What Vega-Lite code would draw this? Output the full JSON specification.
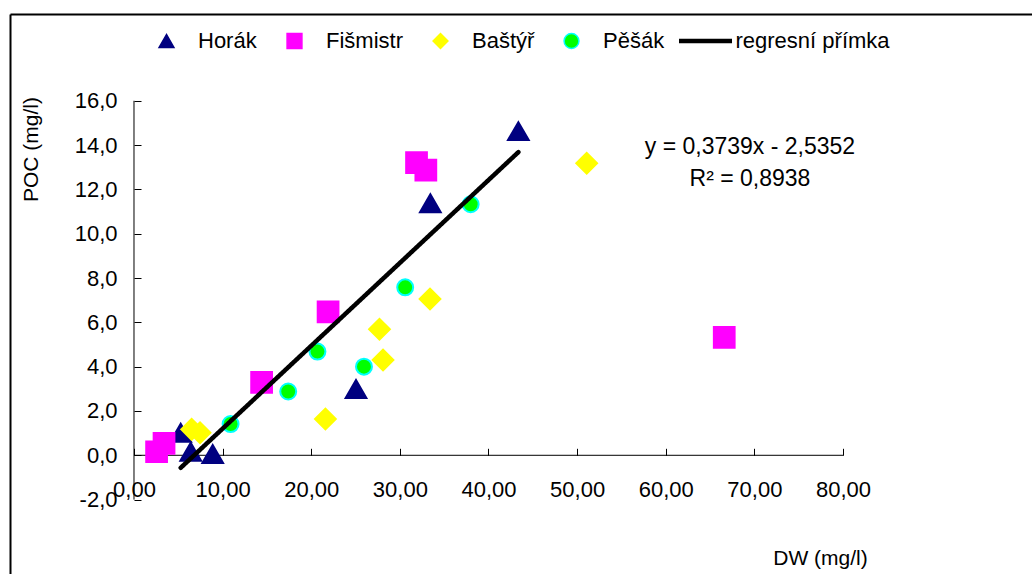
{
  "$schema": "https://vega.github.io/schema/vega-lite/v6.json",
  "width": 1022,
  "height": 560,
  "autosize": "none",
  "padding": {"left": 10, "top": 14, "right": 0, "bottom": 0},
  "background": "white",
  "config": {
    "view": {"stroke": null},
    "font": "Liberation Sans",
    "axis": {"labelFont": "Liberation Sans", "titleFont": "Liberation Sans", "labelColor": "black", "titleColor": "black", "titleFontWeight": "normal", "grid": false, "domainColor": "black", "tickColor": "black"},
    "legend": {"labelFont": "Liberation Sans", "labelColor": "black"}
  },
  "datasets": {
    "axisLines": [
      {"x": 0, "x2": 0, "y": -2, "y2": 16},
      {"x": 0, "x2": 80, "y": 0, "y2": 0}
    ],
    "points": [
      {"series": "Horák", "DW": 5.27, "POC": 1.02},
      {"series": "Horák", "DW": 6.4, "POC": 0.16},
      {"series": "Horák", "DW": 8.88, "POC": 0.06},
      {"series": "Horák", "DW": 25.05, "POC": 2.99},
      {"series": "Horák", "DW": 33.44, "POC": 11.37},
      {"series": "Horák", "DW": 43.37, "POC": 14.63},
      {"series": "Fišmistr", "DW": 2.55, "POC": 0.16},
      {"series": "Fišmistr", "DW": 3.39, "POC": 0.54},
      {"series": "Fišmistr", "DW": 14.4, "POC": 3.29},
      {"series": "Fišmistr", "DW": 21.9, "POC": 6.47},
      {"series": "Fišmistr", "DW": 31.88, "POC": 13.21},
      {"series": "Fišmistr", "DW": 32.93, "POC": 12.87},
      {"series": "Fišmistr", "DW": 66.6, "POC": 5.32},
      {"series": "Baštýř", "DW": 6.5, "POC": 1.17},
      {"series": "Baštýř", "DW": 7.45, "POC": 1.02},
      {"series": "Baštýř", "DW": 21.6, "POC": 1.64},
      {"series": "Baštýř", "DW": 27.7, "POC": 5.69},
      {"series": "Baštýř", "DW": 28.1, "POC": 4.3},
      {"series": "Baštýř", "DW": 33.4, "POC": 7.05},
      {"series": "Baštýř", "DW": 51.08, "POC": 13.18},
      {"series": "Pěšák", "DW": 10.9, "POC": 1.41},
      {"series": "Pěšák", "DW": 17.4, "POC": 2.88},
      {"series": "Pěšák", "DW": 20.7, "POC": 4.68},
      {"series": "Pěšák", "DW": 25.95, "POC": 4.0},
      {"series": "Pěšák", "DW": 30.6, "POC": 7.58},
      {"series": "Pěšák", "DW": 37.99, "POC": 11.33}
    ],
    "trend": [
      {"DW": 5.27, "POC": -0.565},
      {"DW": 43.37, "POC": 13.68}
    ],
    "notes": [
      {"DW": 69.5, "POC": 13.93, "label": "y = 0,3739x - 2,5352"},
      {"DW": 69.5, "POC": 12.47, "label": "R² = 0,8938"}
    ]
  },
  "layer": [
    {
      "data": {"name": "axisLines"},
      "mark": {"type": "rule", "color": "black", "strokeWidth": 1},
      "encoding": {
        "x": {"field": "x", "type": "quantitative", "scale": {"domain": [-13.991, 101.326], "nice": false, "zero": false},
              "axis": {"orient": "top", "domain": true, "domainWidth": 2, "ticks": false, "labels": false, "title": null, "grid": false}},
        "x2": {"field": "x2"},
        "y": {"field": "y", "type": "quantitative", "scale": {"domain": [-5.357, 19.915], "nice": false, "zero": false},
              "axis": {"orient": "left", "domain": true, "domainWidth": 2, "ticks": false, "labels": false, "title": null, "grid": false}},
        "y2": {"field": "y2"}
      }
    },
    {
      "data": {"name": "points"},
      "transform": [{"filter": "datum.series !== 'Pěšák'"}],
      "mark": {"type": "point", "filled": true, "opacity": 1, "strokeWidth": 2, "size": 430},
      "encoding": {
        "x": {"field": "DW", "type": "quantitative", "scale": {"domain": [-13.991, 101.326], "nice": false, "zero": false},
              "axis": {"orient": "bottom", "offset": -118.7, "domain": false, "ticks": true, "tickSize": -7, "tickWidth": 1,
                       "values": [0, 10, 20, 30, 40, 50, 60, 70, 80],
                       "labelExpr": "replace(format(datum.value, '.2f'), '.', ',')",
                       "labelFontSize": 22, "labelPadding": 31, "labelBaseline": "top", "labelOverlap": false, "labelFlush": false, "labelBound": false,
                       "title": "DW (mg/l)", "titleFontSize": 21, "titleX": 810, "titleY": 102.7, "titleAlign": "center", "titleBaseline": "middle", "titleAngle": 0}},
        "y": {"field": "POC", "type": "quantitative", "scale": {"domain": [-5.357, 19.915], "nice": false, "zero": false},
              "axis": {"orient": "left", "offset": -124, "domain": false, "ticks": true, "tickSize": -7, "tickWidth": 1,
                       "values": [-2, 0, 2, 4, 6, 8, 10, 12, 14, 16],
                       "labelExpr": "replace(replace(format(datum.value, '.1f'), '.', ','), '\u2212', '-')",
                       "labelFontSize": 22, "labelPadding": 24, "labelAlign": "right", "labelBaseline": "middle", "labelOverlap": false, "labelFlush": false, "labelBound": false,
                       "title": "POC (mg/l)", "titleFontSize": 21, "titleX": -103, "titleY": 135, "titleAngle": 270, "titleAlign": "center", "titleBaseline": "middle"}},
        "fill": {"field": "series", "type": "nominal",
                 "scale": {"domain": ["Horák", "Fišmistr", "Baštýř", "Pěšák"], "range": ["#000080", "#FF00FF", "#FFFF00", "#00FF00"]},
                 "legend": {"orient": "none", "legendX": 145.5, "legendY": 16, "direction": "horizontal", "columns": 4, "title": null, "padding": 0,
                            "symbolSize": 220, "symbolStrokeWidth": 1.5, "labelFontSize": 22, "labelOffset": 20.5, "columnPadding": 26, "labelLimit": 300}},
        "stroke": {"field": "series", "type": "nominal",
                   "scale": {"domain": ["Horák", "Fišmistr", "Baštýř", "Pěšák"], "range": ["#000080", "#FF00FF", "#FFFF00", "#00FFFF"]},
                   "legend": {"orient": "none", "legendX": 145.5, "legendY": 16, "direction": "horizontal", "columns": 4, "title": null, "padding": 0,
                              "symbolSize": 220, "symbolStrokeWidth": 1.5, "labelFontSize": 22, "labelOffset": 20.5, "columnPadding": 26, "labelLimit": 300}},
        "shape": {"field": "series", "type": "nominal",
                  "scale": {"domain": ["Horák", "Fišmistr", "Baštýř", "Pěšák"], "range": ["triangle-up", "square", "diamond", "circle"]},
                  "legend": {"orient": "none", "legendX": 145.5, "legendY": 16, "direction": "horizontal", "columns": 4, "title": null, "padding": 0,
                             "symbolSize": 220, "symbolStrokeWidth": 1.5, "labelFontSize": 22, "labelOffset": 20.5, "columnPadding": 26, "labelLimit": 300}}
      }
    },
    {
      "data": {"name": "points"},
      "transform": [{"filter": "datum.series === 'Pěšák'"}],
      "mark": {"type": "point", "filled": true, "opacity": 1, "strokeWidth": 2, "size": 254},
      "encoding": {
        "x": {"field": "DW", "type": "quantitative", "scale": {"domain": [-13.991, 101.326], "nice": false, "zero": false}, "axis": null},
        "y": {"field": "POC", "type": "quantitative", "scale": {"domain": [-5.357, 19.915], "nice": false, "zero": false}, "axis": null},
        "fill": {"field": "series", "type": "nominal",
                 "scale": {"domain": ["Horák", "Fišmistr", "Baštýř", "Pěšák"], "range": ["#000080", "#FF00FF", "#FFFF00", "#00FF00"]},
                 "legend": {"orient": "none", "legendX": 145.5, "legendY": 16, "direction": "horizontal", "columns": 4, "title": null, "padding": 0,
                            "symbolSize": 220, "symbolStrokeWidth": 1.5, "labelFontSize": 22, "labelOffset": 20.5, "columnPadding": 26, "labelLimit": 300}},
        "stroke": {"field": "series", "type": "nominal",
                   "scale": {"domain": ["Horák", "Fišmistr", "Baštýř", "Pěšák"], "range": ["#000080", "#FF00FF", "#FFFF00", "#00FFFF"]},
                   "legend": {"orient": "none", "legendX": 145.5, "legendY": 16, "direction": "horizontal", "columns": 4, "title": null, "padding": 0,
                              "symbolSize": 220, "symbolStrokeWidth": 1.5, "labelFontSize": 22, "labelOffset": 20.5, "columnPadding": 26, "labelLimit": 300}},
        "shape": {"field": "series", "type": "nominal",
                  "scale": {"domain": ["Horák", "Fišmistr", "Baštýř", "Pěšák"], "range": ["triangle-up", "square", "diamond", "circle"]},
                  "legend": {"orient": "none", "legendX": 145.5, "legendY": 16, "direction": "horizontal", "columns": 4, "title": null, "padding": 0,
                             "symbolSize": 220, "symbolStrokeWidth": 1.5, "labelFontSize": 22, "labelOffset": 20.5, "columnPadding": 26, "labelLimit": 300}}
      }
    },
    {
      "data": {"name": "trend"},
      "mark": {"type": "line", "color": "black", "strokeWidth": 4.5, "strokeCap": "round"},
      "encoding": {
        "x": {"field": "DW", "type": "quantitative", "scale": {"domain": [-13.991, 101.326], "nice": false, "zero": false}, "axis": null},
        "y": {"field": "POC", "type": "quantitative", "scale": {"domain": [-5.357, 19.915], "nice": false, "zero": false}, "axis": null},
        "strokeDash": {"datum": "regresní přímka", "type": "nominal", "scale": {"range": [[1, 0]]},
                       "legend": {"orient": "none", "legendX": 666.5, "legendY": -2, "title": null, "padding": 0,
                                  "symbolType": "stroke", "symbolSize": 2809, "symbolStrokeWidth": 4.5, "symbolStrokeColor": "black",
                                  "labelFontSize": 22, "labelOffset": 1, "labelLimit": 300}}
      }
    },
    {
      "data": {"name": "notes"},
      "mark": {"type": "text", "fontSize": 23, "font": "Liberation Sans", "color": "black", "align": "center", "baseline": "middle"},
      "encoding": {
        "x": {"field": "DW", "type": "quantitative", "scale": {"domain": [-13.991, 101.326], "nice": false, "zero": false}, "axis": null},
        "y": {"field": "POC", "type": "quantitative", "scale": {"domain": [-5.357, 19.915], "nice": false, "zero": false}, "axis": null},
        "text": {"field": "label", "type": "nominal"}
      }
    }
  ],
  "resolve": {"axis": {"x": "independent", "y": "independent"}}
}
